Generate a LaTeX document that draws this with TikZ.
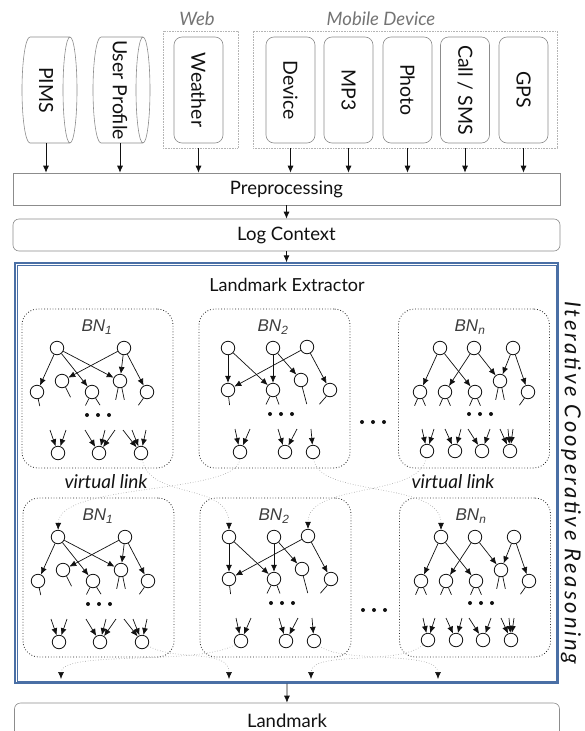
\documentclass[tikz,border=0pt]{standalone}
\usepackage{fontspec}
\setmainfont{Lato}
\newfontfamily\bnfont{Liberation Sans}
\newfontfamily\sidefont[LetterSpace=13]{Lato}
\usetikzlibrary{arrows.meta,calc}

\definecolor{frame}{HTML}{8C8C8C}
\definecolor{lightframe}{HTML}{B4B4B4}
\definecolor{steel}{HTML}{4A6FA5}
\definecolor{labelgray}{HTML}{747474}
\definecolor{bngray}{HTML}{3C3C3C}
\definecolor{linkgray}{HTML}{9A9A9A}
\definecolor{ink}{HTML}{111111}

\tikzset{
  flow/.style={-{Latex[length=7pt,width=6pt]}, line width=0.8pt, draw=ink},
  groupbox/.style={draw=lightframe, densely dotted, line width=0.6pt, inner sep=0pt},
  grouplabel/.style={text=labelgray, font=\fontsize{18.5}{18.5}\selectfont\itshape},
  srctext/.style={inner sep=0pt, text=ink, font=\fontsize{19.5}{19.5}\selectfont},
  src/.style={srctext, draw=frame, rounded corners=8pt, line width=0.6pt,
              minimum width=49pt, minimum height=106pt},
  cyl/.style={draw=frame, line width=0.6pt},
  bar/.style={draw=frame, line width=0.6pt, minimum width=547pt, minimum height=32pt,
              inner sep=0pt, text=ink, font=\fontsize{18.5}{18.5}\selectfont},
  extbox/.style={draw=steel, line width=1.3pt, inner sep=0pt},
  extinner/.style={draw=steel, line width=0.7pt},
  title/.style={text=ink, font=\fontsize{18}{18}\selectfont},
  side/.style={text=ink, font=\fontsize{22}{22}\selectfont\sidefont\itshape},
  linklabel/.style={text=ink, font=\fontsize{19}{19}\selectfont\itshape},
  bnframe/.style={draw=black!85, dotted, rounded corners=16pt, line width=0.8pt,
                  minimum width=151pt, minimum height=159pt, inner sep=0pt},
  bnlabel/.style={text=bngray, font=\fontsize{17}{17}\selectfont\bnfont\itshape},
  bnnode/.style={circle, draw=ink, line width=0.8pt, minimum size=13.5pt, inner sep=0pt},
  bnedge/.style={-{Latex[length=7pt,width=6pt]}, line width=0.7pt, draw=ink},
  stub/.style={line width=0.7pt, draw=ink},
  vlink/.style={draw=linkgray, dotted, line width=0.6pt,
                -{Latex[length=7pt,width=6pt,color=ink]}},
}

% first network: two roots, five children, three leaves
\newcommand{\netone}[1]{%
  \node[bnframe] (#1box) at (97.5,388.5) {};
  \node[bnlabel] (#1lab) at (97,327) {BN\textsubscript{1}};
  \node[bnnode] (#1A) at (57,348) {};
  \node[bnnode] (#1B) at (124,348) {};
  \node[bnnode] (#1c1) at (37,392) {};
  \node[bnnode] (#1c2) at (62,381) {};
  \node[bnnode] (#1c3) at (92,392) {};
  \node[bnnode] (#1c4) at (120,381) {};
  \node[bnnode] (#1c5) at (147,392) {};
  \draw[bnedge] (#1A) -- (#1c1);
  \draw[bnedge] (#1A) -- (#1c3);
  \draw[bnedge] (#1A) -- (#1c4);
  \draw[bnedge] (#1B) -- (#1c2);
  \draw[bnedge] (#1B) -- (#1c4);
  \draw[bnedge] (#1B) -- (#1c5);
  \draw[stub] (#1c1.-80) -- ++(1.5,7);
  \draw[stub] (#1c2.-60) -- ++(5,10);
  \draw[stub] (#1c3.-115) -- ++(-3.5,7);
  \draw[stub] (#1c3.-60) -- ++(4.5,7);
  \draw[stub] (#1c4.-105) -- ++(-2.5,12);
  \draw[stub] (#1c4.-75) -- ++(2.5,12);
  \draw[stub] (#1c5.-120) -- ++(-5,7);
  \fill[ink] (87,415) circle (2) (98,415) circle (2) (109,415) circle (2);
  \node[bnnode] (#1d1) at (58,453) {};
  \node[bnnode] (#1d2) at (99,453) {};
  \node[bnnode] (#1d3) at (141,453) {};
  \draw[bnedge] (#1d1) ++(-8,-23) -- (#1d1);
  \draw[bnedge] (#1d1) ++(8,-23) -- (#1d1);
  \draw[bnedge] (#1d2) ++(-14,-23) -- (#1d2);
  \draw[bnedge] (#1d2) ++(6,-23) -- (#1d2);
  \draw[bnedge] (#1d2) ++(16,-23) -- (#1d2);
  \draw[bnedge] (#1d3) ++(-18,-23) -- (#1d3);
  \draw[bnedge] (#1d3) ++(-9,-23) -- (#1d3);
  \draw[bnedge] (#1d3) ++(5,-23) -- (#1d3);
}

% second network: three roots, four children, three leaves
\newcommand{\nettwo}[1]{%
  \node[bnframe] (#1box) at (274.5,388.5) {};
  \node[bnlabel] (#1lab) at (273,327) {BN\textsubscript{2}};
  \node[bnnode] (#1a1) at (228,348) {};
  \node[bnnode] (#1a2) at (273,348) {};
  \node[bnnode] (#1a3) at (307,347) {};
  \node[bnnode] (#1b1) at (228,390) {};
  \node[bnnode] (#1b2) at (273,390) {};
  \node[bnnode] (#1b3) at (301,380) {};
  \node[bnnode] (#1b4) at (330,390) {};
  \draw[bnedge] (#1a1) -- (#1b1);
  \draw[bnedge] (#1a1) -- (#1b2);
  \draw[bnedge] (#1a2) -- (#1b2);
  \draw[bnedge] (#1a2) -- (#1b3);
  \draw[bnedge] (#1a3) -- (#1b1);
  \draw[bnedge] (#1a3) -- (#1b4);
  \draw[stub] (#1b1.-85) -- ++(1,8);
  \draw[stub] (#1b2.-115) -- ++(-4,8);
  \draw[stub] (#1b2.-65) -- ++(3,8);
  \draw[stub] (#1b3.-80) -- ++(4.5,17);
  \draw[stub] (#1b4.-120) -- ++(-7,8);
  \fill[ink] (270,414) circle (2) (281,414) circle (2) (292,414) circle (2);
  \node[bnnode] (#1e1) at (240,452) {};
  \node[bnnode] (#1e2) at (285,452) {};
  \node[bnnode] (#1e3) at (313,452) {};
  \draw[bnedge] (#1e1) ++(-5,-23) -- (#1e1);
  \draw[bnedge] (#1e1) ++(10,-23) -- (#1e1);
  \draw[bnedge] (#1e2) ++(-7,-23) -- (#1e2);
  \draw[bnedge] (#1e2) ++(12,-23) -- (#1e2);
  \draw[bnedge] (#1e3) ++(-2,-23) -- (#1e3);
}

% last network: three roots, five children, four leaves
\newcommand{\netlast}[1]{%
  \node[bnframe] (#1box) at (474,388.5) {};
  \node[bnlabel] (#1lab) at (470,327) {BN\textsubscript{n}};
  \node[bnnode] (#1p1) at (440,348) {};
  \node[bnnode] (#1p2) at (474,348) {};
  \node[bnnode] (#1p3) at (513,348) {};
  \node[bnnode] (#1q1) at (420,392) {};
  \node[bnnode] (#1q2) at (445,392) {};
  \node[bnnode] (#1q3) at (475,392) {};
  \node[bnnode] (#1q4) at (500,381) {};
  \node[bnnode] (#1q5) at (528,392) {};
  \draw[bnedge] (#1p1) -- (#1q1);
  \draw[bnedge] (#1p1) -- (#1q3);
  \draw[bnedge] (#1p2) -- (#1q2);
  \draw[bnedge] (#1p2) -- (#1q4);
  \draw[bnedge] (#1p3) -- (#1q4);
  \draw[bnedge] (#1p3) -- (#1q5);
  \draw[stub] (#1q1.-110) -- ++(-3,7);
  \draw[stub] (#1q1.-70) -- ++(3,7);
  \draw[stub] (#1q2.-110) -- ++(-3,7);
  \draw[stub] (#1q2.-70) -- ++(3,7);
  \draw[stub] (#1q3.-110) -- ++(-3,7);
  \draw[stub] (#1q3.-70) -- ++(3,7);
  \draw[stub] (#1q4.-105) -- ++(-2.5,12);
  \draw[stub] (#1q4.-75) -- ++(2.5,12);
  \draw[stub] (#1q5.-120) -- ++(-5,7);
  \fill[ink] (469,414) circle (2) (480,414) circle (2) (491,414) circle (2);
  \node[bnnode] (#1r1) at (427,451) {};
  \node[bnnode] (#1r2) at (455,451) {};
  \node[bnnode] (#1r3) at (482,451) {};
  \node[bnnode] (#1r4) at (510,451) {};
  \draw[bnedge] (#1r1) ++(-5,-22) -- (#1r1);
  \draw[bnedge] (#1r1) ++(7,-22) -- (#1r1);
  \draw[bnedge] (#1r2) ++(-10,-22) -- (#1r2);
  \draw[bnedge] (#1r2) ++(6,-22) -- (#1r2);
  \draw[bnedge] (#1r3) ++(-14,-22) -- (#1r3);
  \draw[bnedge] (#1r3) ++(8,-22) -- (#1r3);
  \draw[bnedge] (#1r4) ++(-10,-22) -- (#1r4);
  \draw[bnedge] (#1r4) ++(-2,-22) -- (#1r4);
  \draw[bnedge] (#1r4) ++(3,-22) -- (#1r4);
}

\begin{document}
\begin{tikzpicture}[x=1pt,y=-1pt]
\useasboundingbox (0,0) rectangle (584,731);
\clip (0,0) rectangle (584,731);

% ---- data sources ----
\node[groupbox, minimum width=75pt, minimum height=117pt] (web) at (200.5,89.5) {};
\node[grouplabel] (webtitle) at (197,19) {Web};
\node[groupbox, minimum width=304pt, minimum height=117pt] (mobile) at (405,89.5) {};
\node[grouplabel] (mobtitle) at (381,19) {Mobile Device};

\node[srctext, minimum width=48pt, minimum height=106pt] (pims) at (46,90) {\rotatebox{-90}{PIMS}};
\draw[cyl] (30,37) -- (70,37) (30,143) -- (70,143)
  (70,90) ellipse [x radius=7, y radius=53]
  (30,37) arc [start angle=-90, end angle=-270, x radius=8, y radius=53];
\node[srctext, minimum width=48pt, minimum height=106pt] (user) at (120,90) {\rotatebox{-90}{User Profile}};
\draw[cyl] (101,37) -- (143,37) (101,143) -- (143,143)
  (143,90) ellipse [x radius=7, y radius=53]
  (101,37) arc [start angle=-90, end angle=-270, x radius=8, y radius=53];

\node[src] (weather) at (198.5,90) {\rotatebox{-90}{Weather}};
\node[src] (device) at (290.5,90) {\rotatebox{-90}{Device}};
\node[src] (mp3) at (348.5,90) {\rotatebox{-90}{MP3}};
\node[src] (photo) at (407.5,90) {\rotatebox{-90}{Photo}};
\node[src] (call) at (465,90) {\rotatebox{-90}{Call / SMS}};
\node[src] (gps) at (523.5,90) {\rotatebox{-90}{GPS}};

% ---- pipeline bars ----
\node[bar] (prep) at (286.5,189) {Preprocessing};
\node[bar, rounded corners=6pt] (log) at (286.5,235) {Log Context};

\draw[flow] (pims.south) -- (pims.south |- prep.north);
\draw[flow] (user.south) -- (user.south |- prep.north);
\draw[flow] (weather |- web.south) -- (weather |- prep.north);
\foreach \s in {device,mp3,photo,call,gps} \draw[flow] (\s |- mobile.south) -- (\s |- prep.north);

% ---- landmark extractor: double steel frame ----
\node[extbox, minimum width=543pt, minimum height=420pt] (ext) at (286.5,473) {};
\draw[extinner] ($(ext.north west)+(2.6,2.6)$) rectangle ($(ext.south east)+(-2.6,-2.6)$);
\node[title] (extitle) at (287,285) {Landmark Extractor};
\node[side, rotate=-90] (icr) at (571,483) {Iterative Cooperative Reasoning};

\draw[flow] (prep) -- (log);
\draw[flow] (log) -- (ext);

\netone{ta}
\nettwo{tb}
\netlast{tn}
\fill[ink] (362,422) circle (2) (373,422) circle (2) (384,422) circle (2);

\begin{scope}[shift={(1,189)}]
  \netone{ua}
  \nettwo{ub}
  \netlast{un}
\end{scope}
\fill[ink] (363,610) circle (2) (374,610) circle (2) (385,610) circle (2);

\node[linklabel] (vl1) at (106,482) {virtual link};
\node[linklabel] (vl2) at (453,482) {virtual link};

% links between the two rounds of networks
\draw[vlink] (tad3) .. controls (150,500) and (229,482) .. (uba1);
\draw[vlink] (tbe1) .. controls (238,495) and (59,482) .. (uaA);
\draw[vlink] (tbe3) .. controls (318,498) and (441,480) .. (unp1);
\draw[vlink] (tnr1) .. controls (420,498) and (308,482) .. (uba3);

% links leaving the second round
\coordinate (o1) at (61,679);
\coordinate (o2) at (229,679);
\coordinate (o3) at (311,679);
\coordinate (o4) at (438,679);
\draw[vlink] (uad3) .. controls (175,662) and (229,648) .. (o2);
\draw[vlink] (ube1) .. controls (200,666) and (61,650) .. (o1);
\draw[vlink] (ube3) .. controls (340,664) and (438,650) .. (o4);
\draw[vlink] (unr1) .. controls (400,666) and (311,650) .. (o3);

% ---- result ----
\node[bar, rounded corners=6pt, minimum width=545pt, minimum height=36pt] (lm) at (287,721) {Landmark};
\draw[flow] (ext) -- (lm);
\end{tikzpicture}
\end{document}
